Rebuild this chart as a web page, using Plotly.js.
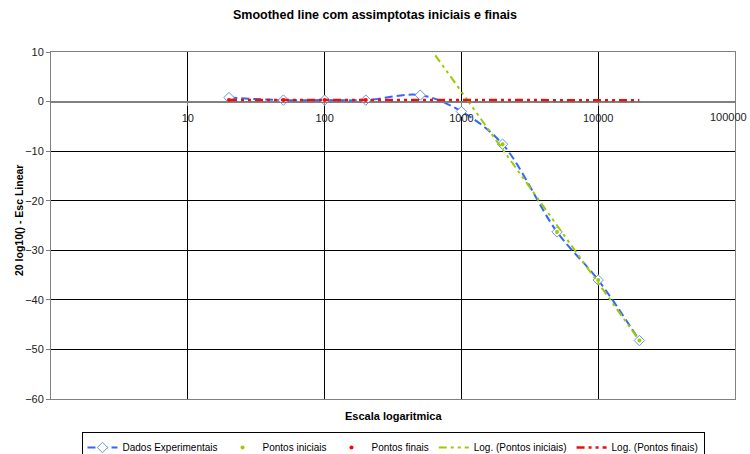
<!DOCTYPE html>
<html>
<head>
<meta charset="utf-8">
<script src="https://cdn.plot.ly/plotly-3.0.1.min.js"></script>
<style>html,body{margin:0;padding:0;background:#fff;}#chart{width:750px;height:454px;}</style>
</head>
<body>
<div id="chart"></div>
<script>
// Data
var freq = [20, 50, 100, 200, 500, 1000, 2000, 5000, 10000, 20000];
var dadosExperimentais = [0.8, 0.3, 0.3, 0.3, 1.3, -2.0, -8.6, -26.3, -36.0, -48.2];

var iniciaisX = [2000, 5000, 10000, 20000];
var iniciaisY = [-8.6, -26.3, -36.0, -48.2];

var finaisX = [20, 50, 100, 200];
var finaisY = [0.3, 0.3, 0.3, 0.3];

var logIniciaisX = [500, 20000];
var logIniciaisY = [13.6, -48.2];

var logFinaisX = [20, 20000];
var logFinaisY = [0.33, 0.28];

var xTickVals = [10, 100, 1000, 10000, 100000];
var xTickText = ['10', '100', '1000', '10000', '100000'];
var yTickVals = [-60, -50, -40, -30, -20, -10, 0, 10];

var FONT = 'Arial, "Liberation Sans", sans-serif';

// last x label is drawn as an annotation so it stays inside the page
var lastIdx = xTickText.length - 1;
var axisTickText = xTickText.map(function (t, i) { return i === lastIdx ? '' : t; });

var traces = [
  {
    name: 'Dados Experimentais', x: freq, y: dadosExperimentais,
    mode: 'lines+markers', type: 'scatter',
    line: {color: '#3366FF', width: 2, dash: '8px,4px', shape: 'spline', smoothing: 1},
    marker: {symbol: 'diamond', size: 8, color: '#FFFFFF', line: {color: '#6F8FE8', width: 1}}
  },
  {
    name: 'Pontos iniciais', x: iniciaisX, y: iniciaisY,
    mode: 'markers', type: 'scatter',
    marker: {symbol: 'circle', size: 4, color: '#99CC00'}
  },
  {
    name: 'Pontos finais', x: finaisX, y: finaisY,
    mode: 'markers', type: 'scatter',
    marker: {symbol: 'circle', size: 4, color: '#FF0000'}
  },
  {
    name: 'Log. (Pontos iniciais)', x: logIniciaisX, y: logIniciaisY,
    mode: 'lines', type: 'scatter',
    line: {color: '#99CC00', width: 2, dash: '8px,4px,3px,4px,3px,4px'}
  },
  {
    name: 'Log. (Pontos finais)', x: logFinaisX, y: logFinaisY,
    mode: 'lines', type: 'scatter',
    line: {color: '#E81010', width: 2.5, dash: '8px,4px,3px,4px,3px,4px'}
  },
  // dummy trace on xaxis2 so the crossing axis gets drawn
  {x: [10], y: [null], xaxis: 'x2', showlegend: false, hoverinfo: 'skip', mode: 'markers', type: 'scatter'}
];

var layout = {
  width: 750, height: 454,
  margin: {l: 51, r: 15, t: 52, b: 55, autoexpand: false},
  paper_bgcolor: '#FFFFFF', plot_bgcolor: '#FFFFFF',
  font: {family: FONT, size: 11, color: '#000000'},
  title: {
    text: 'Smoothed line com assimptotas iniciais e finais',
    font: {family: FONT, size: 12.5, weight: 'bold', color: '#000000'},
    x: 0.5, xanchor: 'center', y: 1 - 15/454, yanchor: 'middle', yref: 'container'
  },
  showlegend: true,
  legend: {
    orientation: 'h', x: 0.5, xanchor: 'center', y: (399 - 432) / 347, yanchor: 'top',
    bordercolor: '#000000', borderwidth: 1, bgcolor: '#FFFFFF',
    font: {family: FONT, size: 10, color: '#000000'}
  },
  xaxis: {
    type: 'log', range: [0, 5],
    tickvals: xTickVals, ticktext: xTickText,
    showticklabels: false, ticks: '',
    showgrid: true, gridcolor: '#000000', gridwidth: 1,
    showline: true, linecolor: '#808080', linewidth: 1, mirror: true,
    zeroline: false
  },
  xaxis2: {
    type: 'log', range: [0, 5], overlaying: 'x', anchor: 'free', position: 6/7, side: 'bottom',
    tickvals: xTickVals, ticktext: axisTickText,
    showticklabels: true, ticks: 'outside', ticklen: 3, tickcolor: '#808080',
    ticklabelstandoff: 3, ticklabeloverflow: 'allow',
    tickfont: {family: FONT, size: 11, color: '#222222'},
    showgrid: false, showline: true, linecolor: '#808080', linewidth: 1, zeroline: false
  },
  yaxis: {
    range: [-60, 10], tickvals: yTickVals,
    ticks: 'outside', ticklen: 4, tickcolor: '#808080',
    tickfont: {family: FONT, size: 11, color: '#222222'},
    showgrid: true, gridcolor: '#000000', gridwidth: 1,
    showline: true, linecolor: '#808080', linewidth: 1, mirror: true,
    zeroline: true, zerolinecolor: '#808080', zerolinewidth: 1
  },
  annotations: [
    {
      text: 'Escala logaritmica', xref: 'paper', yref: 'paper',
      x: 0.5, y: (399 - 416) / 347, xanchor: 'center', yanchor: 'middle',
      showarrow: false, font: {family: FONT, size: 11, weight: 'bold', color: '#000000'}
    },
    {
      text: '20 log10() - Esc Linear', xref: 'paper', yref: 'paper',
      x: (19 - 51) / 684, y: (399 - 221) / 347, xanchor: 'center', yanchor: 'middle',
      textangle: -90, showarrow: false,
      font: {family: FONT, size: 10.5, weight: 'bold', color: '#000000'}
    },
    {
      text: xTickText[lastIdx], xref: 'paper', yref: 'paper',
      x: (749 - 51) / 684, y: (399 - 117) / 347, xanchor: 'right', yanchor: 'middle',
      showarrow: false, font: {family: FONT, size: 11, color: '#222222'}
    }
  ]
};

Plotly.newPlot('chart', traces, layout, {displayModeBar: false, staticPlot: true});
</script>
</body>
</html>
